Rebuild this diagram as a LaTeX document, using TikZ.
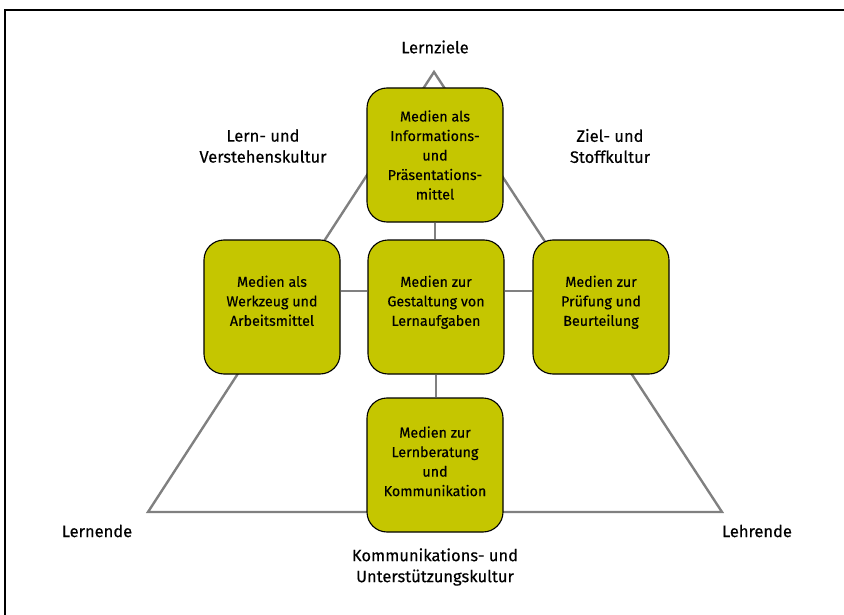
\documentclass[tikz,border=0pt]{standalone}
\usepackage{fontspec}
\setmainfont{Fira Sans}[FakeBold=0.35,UprightFeatures={FakeBold=0.35}]
\definecolor{boxfill}{RGB}{197,198,0}
\definecolor{trigray}{RGB}{128,128,128}
\tikzset{
  mbox/.style={draw=black, line width=1.1pt, fill=boxfill, rounded corners=20pt,
    minimum width=136pt, minimum height=134pt, align=center, font=\fontsize{14.3}{19.5}\selectfont, inner sep=0pt},
  lbl/.style={align=center, font=\fontsize{16.5}{21}\selectfont, inner sep=0pt},
  tri/.style={draw=trigray, line width=2.4pt},
  conn/.style={draw=trigray, line width=1.1pt}
}
\begin{document}
\begin{tikzpicture}[x=1pt,y=-1pt]
\useasboundingbox (0,0) rectangle (844,615);
\draw[line width=1.3pt] (5,615) -- (5,10) -- (844,10);
\coordinate (apex) at (434,72);
\coordinate (bl) at (148,512);
\coordinate (br) at (722,512);
\draw[tri, line join=miter] (apex) -- (bl) -- (br) -- cycle;
\node[mbox] (top) at (435,155) {Medien als\\Informations-\\und\\Präsentations-\\mittel};
\node[mbox] (left) at (272,307) {Medien als\\Werkzeug und\\Arbeitsmittel\\[-7pt]};
\node[mbox] (center) at (436,307) {Medien zur\\Gestaltung von\\Lernaufgaben\\[-7pt]};
\node[mbox] (right) at (601,307) {Medien zur\\Prüfung und\\Beurteilung\\[-7pt]};
\node[mbox] (bottom) at (435,465) {Medien zur\\Lernberatung\\und\\Kommunikation\\[-12pt]};
\draw[conn] (top.south) -- (top.south |- center.north);
\draw[conn] (center.south) -- (center.south |- bottom.north);
\draw[conn] ([yshift=16pt]center.west) -- ([yshift=16pt]left.east);
\draw[conn] ([yshift=16pt]center.east) -- ([yshift=16pt]right.west);
\node[lbl] (lz) at (435,47) {Lernziele};
\node[lbl] (lvk) at (263,146) {Lern- und\\Verstehenskultur};
\node[lbl] (zsk) at (610,146) {Ziel- und\\Stoffkultur};
\node[lbl] (lernende) at (97,531) {Lernende};
\node[lbl] (lehrende) at (757,531) {Lehrende};
\node[lbl] (kuk) at (435,567) {Kommunikations- und\\Unterstützungskultur};
\end{tikzpicture}
\end{document}
